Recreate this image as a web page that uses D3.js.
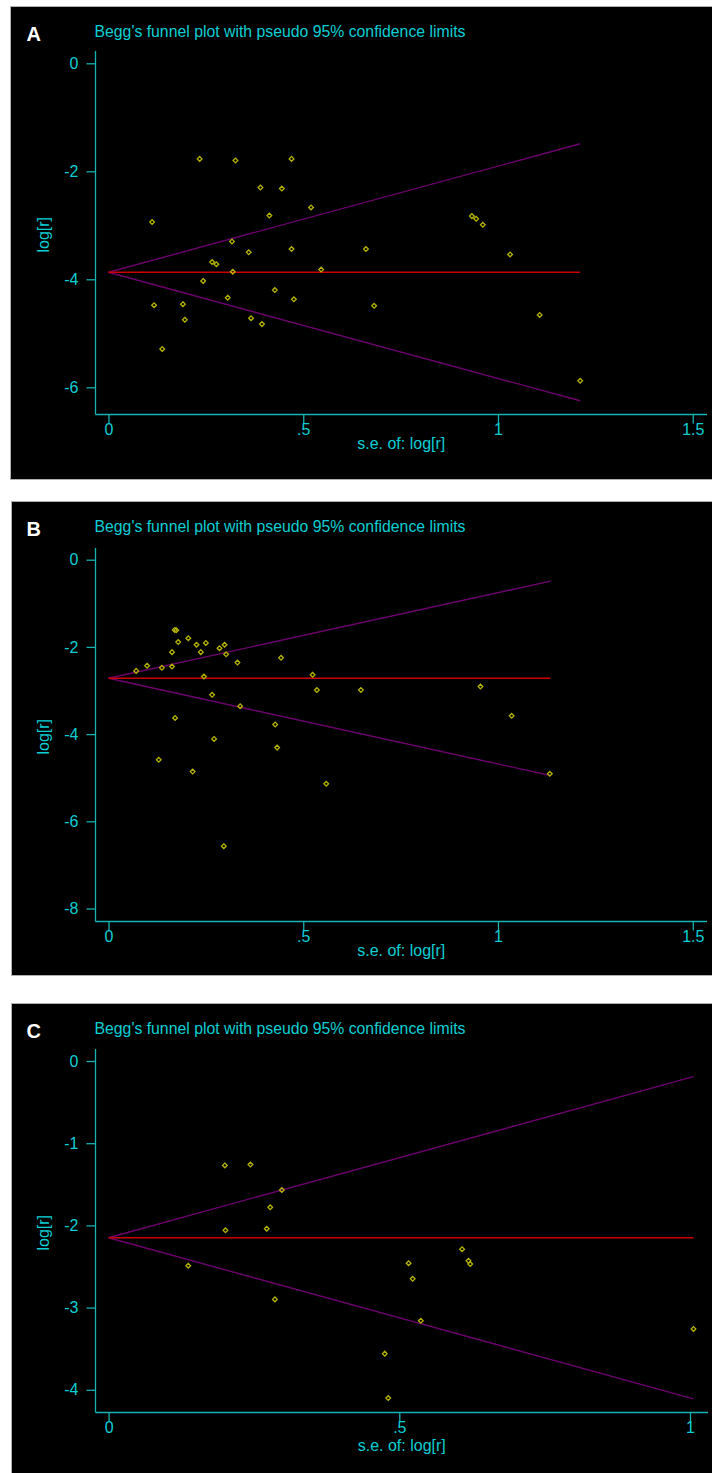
<!DOCTYPE html>
<html>
<head>
<meta charset="utf-8">
<script src="https://cdn.jsdelivr.net/npm/d3@7"></script>
<style>
html,body{margin:0;padding:0;background:#fff;}
svg{display:block;}
text{font-family:"Liberation Sans",Arial,sans-serif;}
</style>
</head>
<body>
<svg id="chart" width="712" height="1473"></svg>
<script>
// ---------------- DATA ----------------
const titleText = "Begg's funnel plot with pseudo 95% confidence limits";
const xTitle = "s.e. of: log[r]";
const yTitle = "log[r]";

// Panel A
const seA = [0.112,0.234,0.326,0.470,0.390,0.445,0.413,0.520,0.933,0.944,0.961,0.661,1.031,0.682,1.107,1.211,
             0.317,0.360,0.470,0.266,0.277,0.319,0.546,0.243,0.427,0.306,0.476,0.117,0.191,0.196,0.366,0.394,0.138];
const logrA = [-2.94,-1.77,-1.80,-1.77,-2.30,-2.32,-2.82,-2.67,-2.83,-2.88,-2.99,-3.44,-3.54,-4.49,-4.66,-5.88,
               -3.30,-3.50,-3.44,-3.68,-3.72,-3.86,-3.82,-4.03,-4.20,-4.34,-4.37,-4.48,-4.46,-4.75,-4.72,-4.83,-5.29];
const funnelSeA = [0, 1.211];
const pooledA = [-3.87, -3.87];
const upperA = [-3.87, -1.49];
const lowerA = [-3.87, -6.25];
const xTicksA = [0, 0.5, 1, 1.5];
const yTicksA = [0, -2, -4, -6];

// Panel B
const seB = [0.071,0.099,0.137,0.163,0.163,0.170,0.174,0.179,0.205,0.226,0.237,0.250,0.285,0.298,0.302,0.331,0.443,0.245,0.524,
             0.266,0.338,0.171,0.535,0.648,0.428,0.271,0.433,0.129,0.216,0.559,0.296,0.955,1.035,1.133];
const logrB = [-2.55,-2.43,-2.48,-2.45,-2.12,-1.61,-1.62,-1.89,-1.80,-1.95,-2.12,-1.91,-2.03,-1.95,-2.17,-2.36,-2.25,-2.68,-2.64,
               -3.10,-3.36,-3.63,-2.99,-2.99,-3.78,-4.11,-4.31,-4.59,-4.86,-5.14,-6.57,-2.91,-3.58,-4.91];
const funnelSeB = [0, 1.135];
const pooledB = [-2.72, -2.72];
const upperB = [-2.72, -0.49];
const lowerB = [-2.72, -4.95];
const xTicksB = [0, 0.5, 1, 1.5];
const yTicksB = [0, -2, -4, -6, -8];

// Panel C
const seC = [0.200,0.244,0.298,0.278,0.201,0.272,0.137,0.286,0.608,0.619,0.622,0.516,0.523,0.537,0.475,0.481,1.006];
const logrC = [-1.27,-1.26,-1.57,-1.78,-2.06,-2.04,-2.49,-2.90,-2.29,-2.43,-2.47,-2.46,-2.65,-3.16,-3.56,-4.10,-3.26];
const funnelSeC = [0, 1.006];
const pooledC = [-2.15, -2.15];
const upperC = [-2.15, -0.19];
const lowerC = [-2.15, -4.11];
const xTicksC = [0, 0.5, 1];
const yTicksC = [0, -1, -2, -3, -4];

// ---------------- LAYOUT ----------------
const COL = {
  axis: "#17b2b2",
  text: "#0ccfd4",
  funnel: "#6c006c",
  pooled: "#cc0000",
  point: "#b4b400",
  border: "#b0b0b0"
};

const panels = [
  {letter:"A", se:seA, logr:logrA, fse:funnelSeA, pooled:pooledA, upper:upperA, lower:lowerA, xt:xTicksA, yt:yTicksA,
   boxL:10.5, boxT:6.5, boxB:479.5, yAxisX:95.5, yTop:51, xAxisY:414.5, xTitleDy:34.5,
   xDom:[0,1.5], xRng:[108.5,692.75], yDom:[0,-6], yRng:[63.3,387.3], xEnd:707},
  {letter:"B", se:seB, logr:logrB, fse:funnelSeB, pooled:pooledB, upper:upperB, lower:lowerB, xt:xTicksB, yt:yTicksB,
   boxL:11.5, boxT:501.5, boxB:975.5, yAxisX:95.5, yTop:548, xAxisY:921.5, xTitleDy:34.5,
   xDom:[0,1.5], xRng:[108.5,692.75], yDom:[0,-8], yRng:[559.7,908.5], xEnd:707},
  {letter:"C", se:seC, logr:logrC, fse:funnelSeC, pooled:pooledC, upper:upperC, lower:lowerC, xt:xTicksC, yt:yTicksC,
   boxL:11.5, boxT:1003.5, boxB:1478, yAxisX:95.5, yTop:1049, xAxisY:1412.5, xTitleDy:38.5,
   xDom:[0,1], xRng:[108.6,690], yDom:[0,-4], yRng:[1061,1389.8], xEnd:708}
];

const svg = d3.select("#chart");
const fmtX = d => d === 0 ? "0" : String(d).replace(/^0\./, ".");
const fmtY = d => String(d);

panels.forEach(p => {
  const g = svg.append("g");
  // box
  g.append("rect").attr("x", p.boxL).attr("y", p.boxT)
    .attr("width", 712 - p.boxL + 5).attr("height", p.boxB - p.boxT)
    .attr("fill", "#000").attr("stroke", COL.border).attr("stroke-width", 1);

  const x = d3.scaleLinear().domain(p.xDom).range(p.xRng);
  const y = d3.scaleLinear().domain(p.yDom).range(p.yRng);

  // panel letter
  g.append("text").attr("x", 26.5).attr("y", p.boxT + 34.8)
    .attr("fill", "#fff").attr("font-size", 20).attr("font-weight", "bold").text(p.letter);
  // title
  g.append("text").attr("x", 94.5).attr("y", p.boxT + 30.8)
    .attr("fill", COL.text).attr("font-size", 15.8).text(titleText);

  // axes lines
  g.append("line").attr("x1", p.yAxisX).attr("x2", p.yAxisX).attr("y1", p.yTop).attr("y2", p.xAxisY)
    .attr("stroke", COL.axis).attr("stroke-width", 1.3);
  g.append("line").attr("x1", p.yAxisX).attr("x2", p.xEnd).attr("y1", p.xAxisY).attr("y2", p.xAxisY)
    .attr("stroke", COL.axis).attr("stroke-width", 1.3);

  // x axis
  const xa = g.append("g").attr("transform", `translate(0,${p.xAxisY})`)
    .call(d3.axisBottom(x).tickValues(p.xt).tickFormat(fmtX).tickSize(9).tickSizeOuter(0).tickPadding(0));
  xa.select(".domain").remove();
  xa.selectAll(".tick line").attr("stroke", COL.axis).attr("stroke-width", 1.3);
  xa.selectAll(".tick text").attr("fill", COL.text).attr("font-size", 16)
    .attr("font-family", "Liberation Sans, Arial, sans-serif");

  // y axis
  const ya = g.append("g").attr("transform", `translate(${p.yAxisX},0)`)
    .call(d3.axisLeft(y).tickValues(p.yt).tickFormat(fmtY).tickSize(9).tickSizeOuter(0).tickPadding(8));
  ya.select(".domain").remove();
  ya.selectAll(".tick line").attr("stroke", COL.axis).attr("stroke-width", 1.3);
  ya.selectAll(".tick text").attr("fill", COL.text).attr("font-size", 16)
    .attr("font-family", "Liberation Sans, Arial, sans-serif");

  // axis titles
  g.append("text").attr("x", (p.yAxisX + p.xEnd) / 2).attr("y", p.xAxisY + p.xTitleDy)
    .attr("text-anchor", "middle").attr("fill", COL.text).attr("font-size", 16).text(xTitle);
  g.append("text").attr("transform", `translate(48.5,${(p.yTop + p.xAxisY) / 2 + 2}) rotate(-90)`)
    .attr("text-anchor", "middle").attr("fill", COL.text).attr("font-size", 16).text(yTitle);

  // funnel lines
  const line = d3.line().x(d => x(d[0])).y(d => y(d[1]));
  const mk = arr => p.fse.map((s, i) => [s, arr[i]]);
  g.append("path").attr("d", line(mk(p.upper))).attr("fill", "none").attr("stroke", COL.funnel).attr("stroke-width", 1.4);
  g.append("path").attr("d", line(mk(p.lower))).attr("fill", "none").attr("stroke", COL.funnel).attr("stroke-width", 1.4);
  g.append("path").attr("d", line(mk(p.pooled))).attr("fill", "none").attr("stroke", COL.pooled).attr("stroke-width", 1.5);

  // points
  const pts = p.se.map((s, i) => ({se: s, v: p.logr[i]}));
  const sym = d3.symbol().type(d3.symbolDiamond2).size(14);
  g.append("g").selectAll("path").data(pts).join("path")
    .attr("transform", d => `translate(${x(d.se)},${y(d.v)})`)
    .attr("d", sym()).attr("fill", "none").attr("stroke", COL.point).attr("stroke-width", 1.3);
});
</script>
</body>
</html>
